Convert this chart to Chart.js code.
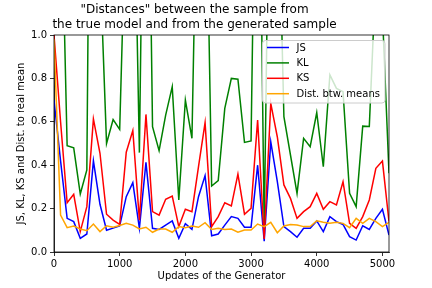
<!DOCTYPE html>
<html lang="en">
<head>
    <meta charset="UTF-8">
    <title>Distances between true and generated sample</title>
    <script src="https://cdn.jsdelivr.net/npm/chart.js"></script>
    <style>
        body {
            margin: 0;
            background: #ffffff;
        }
        canvas {
            display: block;
            background: #ffffff;
        }
    </style>
</head>
<body>
    <canvas id="distChart" width="432" height="288"></canvas>

    <script>
        // Generator updates (x axis)
        const updates = [0, 100, 200, 300, 400, 500, 600, 700, 800, 900,
            1000, 1100, 1200, 1300, 1400, 1500, 1600, 1700, 1800, 1900,
            2000, 2100, 2200, 2300, 2400, 2500, 2600, 2700, 2800, 2900,
            3000, 3100, 3200, 3300, 3400, 3500, 3600, 3700, 3800, 3900,
            4000, 4100, 4200, 4300, 4400, 4500, 4600, 4700, 4800, 4900,
            5000, 5100];

        const jsDist = [0.70, 0.42, 0.155, 0.14, 0.063, 0.083, 0.42, 0.22, 0.10, 0.11,
            0.12, 0.255, 0.32, 0.109, 0.413, 0.109, 0.104, 0.124, 0.143, 0.063,
            0.13, 0.104, 0.255, 0.352, 0.075, 0.083, 0.124, 0.163, 0.155, 0.114,
            0.114, 0.40, 0.05, 0.508, 0.324, 0.117, 0.094, 0.068, 0.109, 0.109,
            0.143, 0.094, 0.163, 0.14, 0.127, 0.071, 0.055, 0.121, 0.104, 0.155,
            0.197, 0.078];

        // KL often shoots past the top of the axis (clipped at 1.0)
        const klDist = [2.5, 1.8, 0.49, 0.48, 0.267, 0.378, 4.0, 1.33, 0.50, 0.61,
            0.565, 1.65, 2.05, 0.458, 2.8, 0.578, 0.467, 0.631, 0.762, 0.24,
            0.70, 0.524, 2.1, 2.04, 0.304, 0.329, 0.662, 0.80, 0.796, 0.505,
            0.512, 2.6, 0.1, 2.35, 1.88, 0.624, 0.447, 0.27, 0.524, 0.485,
            0.642, 0.393, 0.816, 0.754, 0.739, 0.27, 0.209, 0.58, 0.578, 1.28,
            1.1, 0.363];

        const ksDist = [1.0, 0.6, 0.227, 0.266, 0.094, 0.209, 0.613, 0.455, 0.174, 0.147,
            0.127, 0.46, 0.56, 0.147, 0.634, 0.186, 0.17, 0.243, 0.258, 0.117,
            0.197, 0.186, 0.393, 0.596, 0.117, 0.163, 0.227, 0.212, 0.359, 0.174,
            0.201, 0.608, 0.06, 0.685, 0.53, 0.309, 0.247, 0.155, 0.186, 0.209,
            0.27, 0.197, 0.232, 0.217, 0.324, 0.132, 0.109, 0.163, 0.24, 0.386,
            0.419, 0.14];

        const meanDist = [0.98, 0.17, 0.112, 0.12, 0.106, 0.098, 0.129, 0.094, 0.121, 0.114,
            0.122, 0.132, 0.124, 0.106, 0.114, 0.091, 0.106, 0.106, 0.091, 0.117,
            0.112, 0.12, 0.114, 0.135, 0.104, 0.109, 0.104, 0.106, 0.091, 0.101,
            0.101, 0.129, 0.117, 0.137, 0.089, 0.12, 0.127, 0.124, 0.117, 0.117,
            0.144, 0.137, 0.132, 0.137, 0.132, 0.112, 0.155, 0.132, 0.155, 0.14,
            0.117, 0.137];

        const xTickValues = [0, 1000, 2000, 3000, 4000, 5000];
        const yTickValues = [0.0, 0.2, 0.4, 0.6, 0.8, 1.0];

        const seriesLabels = ['JS', 'KL', 'KS', 'Dist. btw. means'];
        const seriesColors = ['#0000ff', '#008000', '#ff0000', '#ffa500'];
        const seriesValues = [jsDist, klDist, ksDist, meanDist];

        const fontFamily = '"DejaVu Sans", sans-serif';

        // top + right spines, then a matplotlib style legend inside the axes
        const frameAndLegend = {
            id: 'frameAndLegend',
            afterDatasetsDraw(chart) {
                const ctx = chart.ctx;
                const a = chart.chartArea;
                ctx.save();
                ctx.strokeStyle = '#000000';
                ctx.lineWidth = 0.8;
                ctx.strokeRect(a.left, a.top, a.right - a.left, a.bottom - a.top);

                const boxW = 122.5, boxH = 62.5;
                const bx = a.right - 4 - boxW;
                const by = a.top + 5.5;
                ctx.beginPath();
                ctx.roundRect(bx, by, boxW, boxH, 3);
                ctx.fillStyle = 'rgba(255,255,255,0.8)';
                ctx.fill();
                ctx.strokeStyle = '#cccccc';
                ctx.lineWidth = 1;
                ctx.stroke();

                ctx.font = '10px ' + fontFamily;
                ctx.textBaseline = 'middle';
                ctx.textAlign = 'left';
                seriesLabels.forEach((label, i) => {
                    const y = by + 7 + i * 15.4;
                    ctx.beginPath();
                    ctx.moveTo(bx + 4.5, y);
                    ctx.lineTo(bx + 26.5, y);
                    ctx.strokeStyle = seriesColors[i];
                    ctx.lineWidth = 1.5;
                    ctx.stroke();
                    ctx.fillStyle = '#000000';
                    ctx.fillText(label, bx + 34, y + 0.5);
                });
                ctx.restore();
            }
        };

        function createChart() {
            const ctx = document.getElementById('distChart').getContext('2d');

            const datasets = seriesLabels.map((label, i) => ({
                label: label,
                data: updates.map((u, j) => ({ x: u, y: seriesValues[i][j] })),
                borderColor: seriesColors[i],
                backgroundColor: seriesColors[i],
                borderWidth: 1.5,
                pointRadius: 0,
                tension: 0,
                fill: false,
                clip: 0,
                order: seriesLabels.length - i
            }));

            new Chart(ctx, {
                type: 'line',
                data: { datasets: datasets },
                options: {
                    responsive: false,
                    animation: false,
                    devicePixelRatio: 1,
                    layout: {
                        padding: { left: 0, right: 43, top: 0, bottom: 0 }
                    },
                    plugins: {
                        legend: { display: false },
                        tooltip: { enabled: false },
                        title: {
                            display: true,
                            text: ['"Distances" between the sample from', 'the true model and from the generated sample'],
                            color: '#000000',
                            font: { family: fontFamily, size: 12, weight: 'normal', lineHeight: 1.2 },
                            padding: { top: 3, bottom: 3.2 }
                        }
                    },
                    scales: {
                        x: {
                            type: 'linear',
                            min: 0,
                            max: 5100,
                            afterFit: (scale) => { scale.height = 36; },
                            afterBuildTicks: (scale) => {
                                scale.ticks = xTickValues.map(v => ({ value: v }));
                            },
                            grid: {
                                display: true,
                                drawOnChartArea: false,
                                drawTicks: true,
                                tickLength: 4,
                                color: '#000000',
                                lineWidth: 0.8
                            },
                            border: { display: true, color: '#000000', width: 0.8 },
                            ticks: {
                                maxRotation: 0,
                                autoSkip: false,
                                padding: 2,
                                color: '#000000',
                                font: { family: fontFamily, size: 10 },
                                callback: (v) => String(v)
                            },
                            title: {
                                display: true,
                                text: 'Updates of the Generator',
                                color: '#000000',
                                font: { family: fontFamily, size: 10, lineHeight: 1.2 },
                                padding: { top: 0, bottom: 5.3 }
                            }
                        },
                        y: {
                            min: 0,
                            max: 1,
                            afterFit: (scale) => { scale.width = 54; },
                            afterBuildTicks: (scale) => {
                                scale.ticks = yTickValues.map(v => ({ value: v }));
                            },
                            grid: {
                                display: true,
                                drawOnChartArea: false,
                                drawTicks: true,
                                tickLength: 4,
                                color: '#000000',
                                lineWidth: 0.8
                            },
                            border: { display: true, color: '#000000', width: 0.8 },
                            ticks: {
                                autoSkip: false,
                                padding: 3,
                                color: '#000000',
                                font: { family: fontFamily, size: 10 },
                                callback: (v) => Number(v).toFixed(1)
                            },
                            title: {
                                display: true,
                                text: 'JS, KL, KS and Dist. to real mean',
                                color: '#000000',
                                font: { family: fontFamily, size: 10, lineHeight: 1.2 },
                                padding: { top: 15.5, bottom: 0 }
                            }
                        }
                    }
                },
                plugins: [frameAndLegend]
            });
        }

        window.addEventListener('load', createChart);
    </script>
</body>
</html>
